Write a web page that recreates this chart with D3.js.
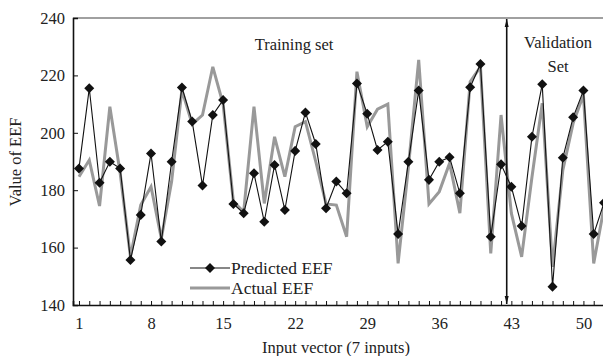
<!DOCTYPE html>
<html>
<head>
<meta charset="utf-8">
<script src="https://cdn.jsdelivr.net/npm/d3@7"></script>
<style>
  body { margin: 0; background: #fff; }
  text { font-family: "Liberation Serif", "DejaVu Serif", serif; fill: #222; }
</style>
</head>
<body>
<div id="chart"></div>
<script>
// values
const inputs = d3.range(1, 53);
const predicted = [187.6, 215.5, 182.6, 189.9, 187.6, 155.7, 171.4, 192.8, 162.1, 189.9,
  215.8, 203.9, 181.6, 206.2, 211.4, 175.2, 172, 185.9, 169, 188.8,
  173.1, 193.7, 207.1, 196.1, 173.7, 183, 178.9, 217.2, 206.6, 194,
  196.9, 164.7, 189.9, 214.7, 183.6, 189.9, 191.5, 178.9, 215.9, 224,
  163.8, 189, 181.2, 167.5, 198.6, 216.9, 146.4, 191.3, 205.4, 214.7,
  164.7, 175.6];
const actual = [184.7, 190.5, 174.5, 209.1, 186, 156.8, 174.8, 181.2, 163.2, 183,
  214.9, 203, 206.2, 223, 210, 176, 172.5, 209.1, 175.4, 198.6,
  184.7, 202.1, 203.9, 190, 175.2, 174.8, 163.8, 221.3, 202.1, 208.2,
  210, 154.5, 188, 225.4, 175.2, 179.5, 189.4, 172, 217.8, 223,
  158, 206.2, 172, 156.8, 184.5, 210.3, 153.3, 187, 203.3, 213.2,
  154.5, 174];
const yTicks = [140, 160, 180, 200, 220, 240];
const xTicks = [1, 8, 15, 22, 29, 36, 43, 50];
const splitAt = 42.55;

const W = 603, H = 356;
const svg = d3.select("#chart").append("svg").attr("width", W).attr("height", H);

const x = d3.scaleLinear().domain([0.42, 52]).range([73, 604]);
const y = d3.scaleLinear().domain([140, 240]).range([305, 18]);

svg.append("defs").append("clipPath").attr("id", "clip")
  .append("rect").attr("x", 73).attr("y", 0).attr("width", W - 73).attr("height", H);

// top frame line (gray)
svg.append("line").attr("x1", 73).attr("x2", W).attr("y1", y(240)).attr("y2", y(240))
  .attr("stroke", "#808080").attr("stroke-width", 1.5);

// y axis
const yAxis = svg.append("g").attr("transform", "translate(73,0)")
  .call(d3.axisLeft(y).tickValues(yTicks).tickSize(-5).tickPadding(8));
yAxis.select(".domain").attr("stroke", "#111").attr("stroke-width", 1.6);
yAxis.selectAll(".tick line").attr("stroke", "#111");
yAxis.selectAll(".tick text").attr("font-size", 16.5).attr("fill", "#222");

// x axis: minor ticks at every integer, labels on some
const xAxis = svg.append("g").attr("transform", "translate(0,305)")
  .call(d3.axisBottom(x).tickValues(inputs).tickSize(-4).tickPadding(12)
    .tickFormat(d => xTicks.includes(d) ? d : ""));
xAxis.select(".domain").attr("stroke", "#111").attr("stroke-width", 1.6);
xAxis.selectAll(".tick line").attr("stroke", "#111");
xAxis.selectAll(".tick text").attr("font-size", 16.5).attr("fill", "#222");

const plot = svg.append("g").attr("clip-path", "url(#clip)");

const line = d3.line().x((d, i) => x(inputs[i])).y(d => y(d));

plot.append("path").datum(actual).attr("d", line)
  .attr("fill", "none").attr("stroke", "#999").attr("stroke-width", 3);

plot.append("path").datum(predicted).attr("d", line)
  .attr("fill", "none").attr("stroke", "#111").attr("stroke-width", 1.1);

const diamond = d3.symbol().type(d3.symbolDiamond2).size(64);
plot.selectAll(".pt").data(predicted).join("path")
  .attr("class", "pt")
  .attr("transform", (d, i) => `translate(${x(inputs[i])},${y(d)})`)
  .attr("d", diamond).attr("fill", "#111");

// divider between training and validation sets (double arrow)
const xs = x(splitAt);
svg.append("line").attr("x1", xs).attr("x2", xs).attr("y1", y(240) + 1).attr("y2", y(140) - 1)
  .attr("stroke", "#111").attr("stroke-width", 1.6);
svg.append("path").attr("d", `M${xs - 2},${y(240) + 9} L${xs},${y(240) + 1} L${xs + 2},${y(240) + 9} Z`).attr("fill", "#111");
svg.append("path").attr("d", `M${xs - 2},${y(140) - 9} L${xs},${y(140) - 1} L${xs + 2},${y(140) - 9} Z`).attr("fill", "#111");

svg.append("text").attr("x", 294).attr("y", 50).attr("text-anchor", "middle")
  .attr("font-size", 16.5).text("Training set");
svg.append("text").attr("x", 558).attr("y", 48).attr("text-anchor", "middle")
  .attr("font-size", 16.5).text("Validation");
svg.append("text").attr("x", 558).attr("y", 72).attr("text-anchor", "middle")
  .attr("font-size", 16.5).text("Set");

// legend
const lg = svg.append("g").attr("transform", "translate(190,268)");
lg.append("line").attr("x1", 0).attr("x2", 40).attr("y1", 0).attr("y2", 0)
  .attr("stroke", "#111").attr("stroke-width", 1.1);
lg.append("path").attr("transform", "translate(20,0)").attr("d", diamond).attr("fill", "#111");
lg.append("text").attr("x", 41).attr("y", 5.5).attr("font-size", 17.5).text("Predicted EEF");
lg.append("line").attr("x1", 0).attr("x2", 40).attr("y1", 20).attr("y2", 20)
  .attr("stroke", "#999").attr("stroke-width", 3);
lg.append("text").attr("x", 41).attr("y", 25.5).attr("font-size", 17.5).text("Actual EEF");

// axis titles
svg.append("text").attr("x", 336).attr("y", 353).attr("text-anchor", "middle")
  .attr("font-size", 16.5).text("Input vector (7 inputs)");
svg.append("text").attr("transform", "translate(21,162) rotate(-90)").attr("text-anchor", "middle")
  .attr("font-size", 16.5).text("Value of EEF");
</script>
</body>
</html>
